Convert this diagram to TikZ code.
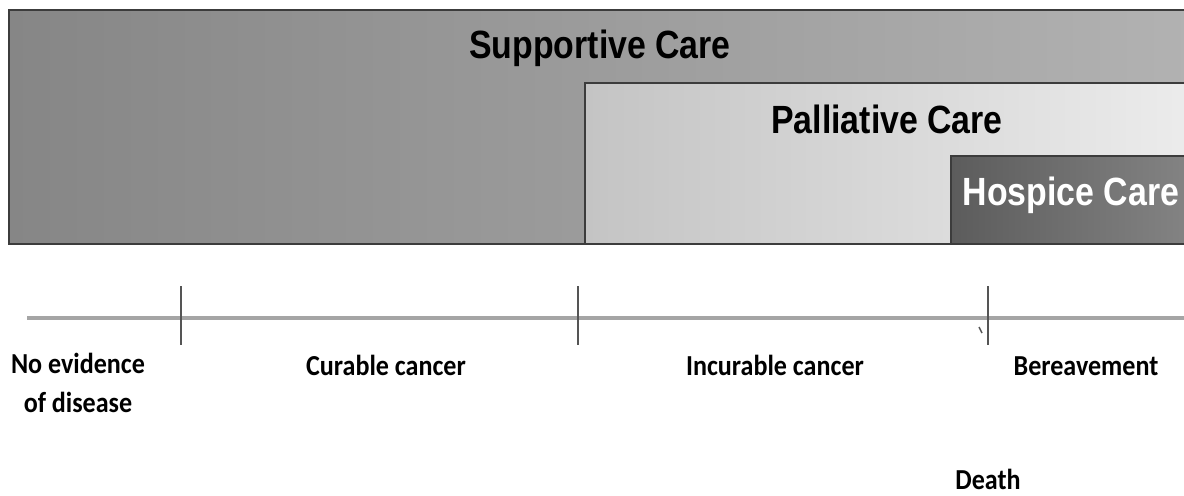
\documentclass[tikz,border=0pt]{standalone}
\usepackage{fontspec}
\newfontfamily\carefont[FakeStretch=0.86]{Liberation Sans}
\newfontfamily\stagefont[FakeStretch=0.9]{Carlito}
\definecolor{frame}{RGB}{60,60,60}
\definecolor{supportL}{RGB}{134,134,134}
\definecolor{supportR}{RGB}{178,178,178}
\definecolor{palliL}{RGB}{196,196,196}
\definecolor{palliR}{RGB}{236,236,236}
\definecolor{hospL}{RGB}{92,92,92}
\definecolor{hospR}{RGB}{132,132,132}
\definecolor{axisgray}{RGB}{165,165,165}
\definecolor{tickgray}{RGB}{85,85,85}
\tikzstyle{care} = [font=\carefont\bfseries\fontsize{28}{30}\selectfont, anchor=base, inner sep=0pt]
\tikzstyle{stage} = [font=\stagefont\bfseries\fontsize{20.6}{27.7}\selectfont, anchor=base, inner sep=0pt, align=center]
\tikzstyle{band} = [draw=frame, line width=1.4pt]
\tikzstyle{axis} = [draw=axisgray, line width=2.2pt]
\tikzstyle{tick} = [draw=tickgray, line width=1.3pt]

\begin{document}
\begin{tikzpicture}[x=0.025cm, y=-0.025cm]
  \clip (0,0) rectangle (1184,495);
  \fill[white] (0,0) rectangle (1184,495);

  % care bands
  \shade[band, left color=supportL, right color=supportR] (9,10) rectangle (1194,244);
  \shade[band, left color=palliL, right color=palliR] (585,83) rectangle (1194,244);
  \shade[band, left color=hospL, right color=hospR] (951,156) rectangle (1194,244);

  \node (supportive) [care] at (600,58) {Supportive Care};
  \node (palliative) [care] at (887,133) {Palliative Care};
  \node (hospice) [care, text=white] at (1071,205) {Hospice Care};

  % timeline
  \coordinate (start) at (27,318);
  \coordinate (end) at (1194,318);
  \draw [axis] (start) -- (end);
  \foreach \name/\x in {cure/181, incure/578, death/988} {
    \coordinate (\name top) at (\x,286);
    \coordinate (\name bot) at (\x,345);
    \draw [tick] (\name top) -- (\name bot);
  }
  \coordinate (nick a) at (979,327);
  \coordinate (nick b) at (982,333);
  \draw [tick, line width=1pt] (nick a) -- (nick b);

  \node (ned) [stage] at (78,412) {No evidence\\of disease};
  \node (curable) [stage] at (386,375) {Curable cancer};
  \node (incurable) [stage] at (775,375) {Incurable cancer};
  \node (bereave) [stage] at (1086,375) {Bereavement};
  \node (death) [stage] at (988,489) {Death};
\end{tikzpicture}
\end{document}
